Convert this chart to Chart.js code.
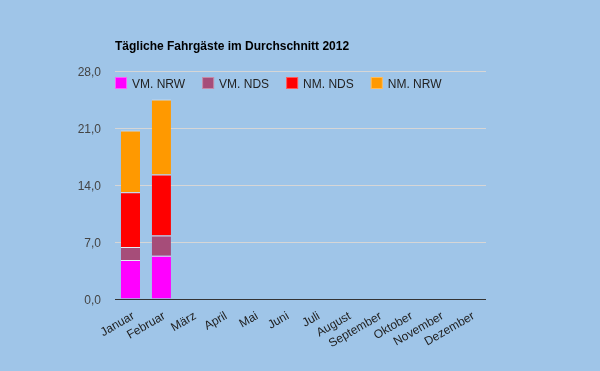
<!DOCTYPE html>
<html>
<head>
<meta charset="utf-8">
<script src="https://cdn.jsdelivr.net/npm/chart.js@4"></script>
<style>
	html, body { margin: 0; padding: 0; background: #9fc5e8; }
	#wrap { width: 600px; height: 371px; }
</style>
</head>
<body>
<div id="wrap"><canvas id="chart-fahrgaeste"></canvas></div>
<script>
// Chart data
const MONTHS = ["Januar", "Februar", "März", "April", "Mai", "Juni", "Juli", "August", "September", "Oktober", "November", "Dezember"];
const VM_NRW = [4.8, 5.3, null, null, null, null, null, null, null, null, null, null];
const VM_NDS = [1.6, 2.5, null, null, null, null, null, null, null, null, null, null];
const NM_NDS = [6.7, 7.5, null, null, null, null, null, null, null, null, null, null];
const NM_NRW = [7.6, 9.2, null, null, null, null, null, null, null, null, null, null];
const Y_TICKS = [0, 7, 14, 21, 28];
const TITLE = "Tägliche Fahrgäste im Durchschnitt 2012";

const FONT = "Arial, 'Liberation Sans', sans-serif";

const makeSet = (label, data, color) => ({
	label: label,
	data: data,
	backgroundColor: color,
	borderColor: "rgba(235, 240, 245, 0.9)",
	borderWidth: { top: 1, bottom: 0, left: 0, right: 0 },
	borderSkipped: false,
	categoryPercentage: 1,
	barPercentage: 0.62,
});

// Title + legend drawn inside the plot, like the original
const headerPlugin = {
	id: "header",
	afterDraw(chart) {
		const { ctx, chartArea } = chart;
		ctx.save();
		ctx.fillStyle = "#000";
		ctx.font = "bold 12px " + FONT;
		ctx.textBaseline = "alphabetic";
		ctx.fillText(TITLE, chartArea.left, 50);

		ctx.font = "12px " + FONT;
		let x = chartArea.left;
		chart.data.datasets.forEach((ds) => {
			ctx.fillStyle = ds.backgroundColor;
			ctx.fillRect(x, 77, 12, 12);
			ctx.strokeStyle = "rgba(255,255,255,0.35)";
			ctx.lineWidth = 1;
			ctx.strokeRect(x + 0.5, 77.5, 11, 11);
			ctx.fillStyle = "#222";
			ctx.fillText(ds.label, x + 17, 88);
			x += 17 + ctx.measureText(ds.label).width + 17;
		});
		ctx.restore();
	},
};

const CHART_CONFIG = {
	type: "bar",
	data: {
		labels: MONTHS,
		datasets: [
			makeSet("VM. NRW", VM_NRW, "#ff00ff"),
			makeSet("VM. NDS", VM_NDS, "#a64d79"),
			makeSet("NM. NDS", NM_NDS, "#ff0000"),
			makeSet("NM. NRW", NM_NRW, "#ff9900"),
		],
	},
	options: {
		responsive: true,
		maintainAspectRatio: false,
		animation: false,
		layout: {
			padding: { top: 71, right: 114, left: 0, bottom: 0 },
		},
		scales: {
			x: {
				stacked: true,
				border: { display: false },
				grid: { display: false },
				afterFit: (scale) => { scale.height = 72; },
				ticks: {
					autoSkip: false,
					minRotation: 30,
					maxRotation: 30,
					padding: 2,
					labelOffset: 3,
					color: "#222",
					font: { family: FONT, size: 12 },
				},
			},
			y: {
				stacked: true,
				min: 0,
				max: 28,
				afterFit: (scale) => { scale.width = 115; },
				afterBuildTicks: (scale) => {
					scale.ticks = Y_TICKS.map((v) => ({ value: v }));
				},
				border: { display: false },
				grid: {
					drawTicks: false,
					lineWidth: 1,
					color: (c) => (c.tick && c.tick.value === 0 ? "#333" : "#d6d6d6"),
				},
				ticks: {
					padding: 14,
					labelOffset: 2,
					color: "#444",
					font: { family: FONT, size: 12 },
					callback: (v) => v.toFixed(1).replace(".", ","),
				},
			},
		},
		plugins: {
			legend: { display: false },
			title: { display: false },
			tooltip: { enabled: false },
		},
	},
	plugins: [headerPlugin],
};

new Chart(document.getElementById("chart-fahrgaeste"), CHART_CONFIG);
</script>
</body>
</html>
